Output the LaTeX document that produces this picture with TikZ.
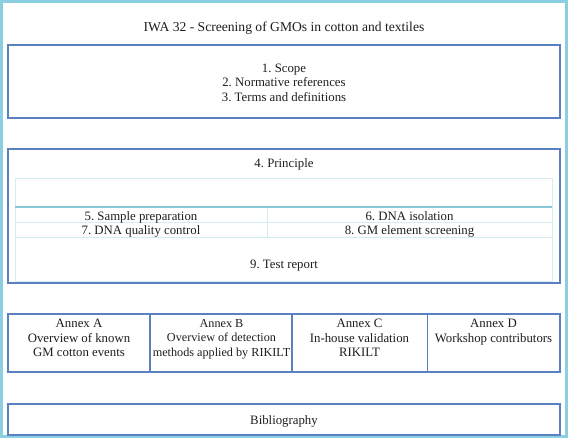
\documentclass[tikz,border=0pt]{standalone}
\usepackage{fontspec}
\setmainfont{Liberation Serif}
\frenchspacing
\definecolor{outercyan}{HTML}{8CCFE0}
\definecolor{boxblue}{HTML}{5A80BF}
\definecolor{gridcyan}{HTML}{D3EBF2}
\definecolor{thickcyan}{HTML}{8DC8DA}
\definecolor{txt}{HTML}{1E1E1E}
\tikzset{
  mainbox/.style={draw=boxblue, line width=1.6pt},
  gridline/.style={draw=gridcyan, line width=0.9pt},
  lbl/.style={inner sep=0pt, text=txt, font=\fontsize{12.8}{14.5}\selectfont\frenchspacing, align=center},
  oneline/.style={lbl, text height=9pt, text depth=2.8pt},
}
\begin{document}
\begin{tikzpicture}[x=1pt,y=-1pt]
\useasboundingbox (0,0) rectangle (568,438);
\fill[white] (0,0) rectangle (568,438);
\draw[outercyan, line width=3pt] (1.5,1.5) rectangle (566,436.5);
% title
\node[oneline, font=\fontsize{13.6}{16}\selectfont] (title) at (284,28.5) {IWA 32 - Screening of GMOs in cotton and textiles};
% scope box
\draw[mainbox] (8,45) rectangle (560,118);
\node[lbl, anchor=north] (scope) at (284,63.5) {1. Scope\\2. Normative references\\3. Terms and definitions};
% principle box
\draw[gridline] (15,178) rectangle (552,281);
\draw[gridline] (15,222) -- (552,222);
\draw[gridline] (15,237) -- (552,237);
\draw[gridline] (267,207) -- (267,237);
\draw[thickcyan, line width=1.5pt] (15,207) -- (552,207);
\draw[mainbox] (8,149) rectangle (560,283);
\node[oneline] (principle) at (284,164) {4. Principle};
\node[oneline] (sample) at (141,217) {5. Sample preparation};
\node[oneline] (isol) at (409.5,217) {6. DNA isolation};
\node[oneline] (qc) at (141,231.5) {7. DNA quality control};
\node[oneline] (screen) at (409.5,231.5) {8. GM element screening};
\node[oneline] (report) at (284,265) {9. Test report};
% annexes
\draw[mainbox] (8,314) rectangle (560,372);
\draw[mainbox] (150,314) -- (150,372);
\draw[mainbox] (292,314) -- (292,372);
\draw[mainbox] (427.5,314) -- (427.5,372);
\node[lbl, anchor=north] (anxa) at (79,319) {Annex A\\Overview of known\\GM cotton events};
\node[lbl, anchor=north, font=\fontsize{12.2}{14.5}\selectfont\frenchspacing] (anxb) at (221.5,319) {Annex B\\Overview of detection\\methods applied by RIKILT};
\node[lbl, anchor=north] (anxc) at (359.5,319) {Annex C\\In-house validation\\RIKILT};
\node[lbl, anchor=north] (anxd) at (493.5,319) {Annex D\\Workshop contributors};
% bibliography
\draw[mainbox] (8,404) rectangle (560,435);
\node[oneline] (bib) at (284,421) {Bibliography};
\end{tikzpicture}
\end{document}
